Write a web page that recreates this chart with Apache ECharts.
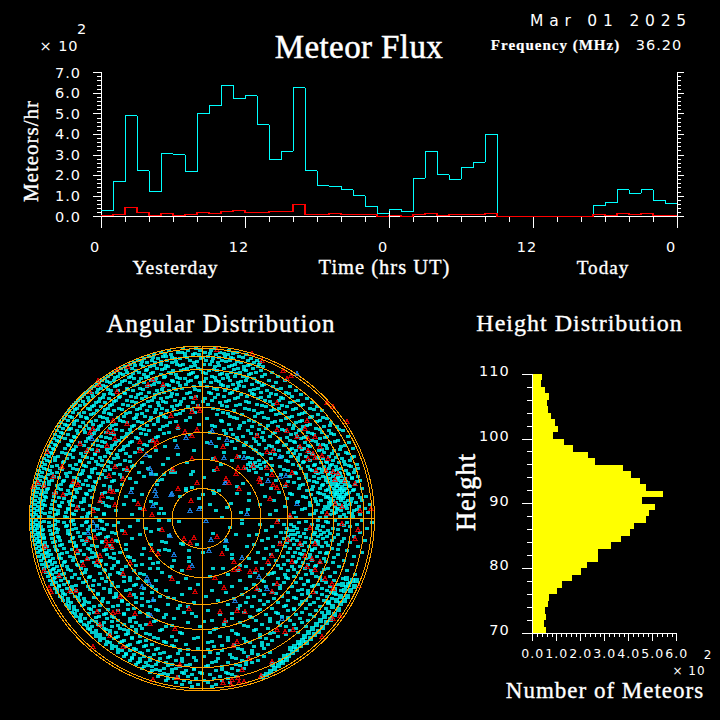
<!DOCTYPE html>
<html><head><meta charset="utf-8">
<style>
html,body{margin:0;padding:0;background:#000}
#c{width:720px;height:720px}
svg path,svg line,svg rect{shape-rendering:crispEdges}
svg text[style*="Serif"]{letter-spacing:1px}
svg text[style*="33px"]{letter-spacing:.4px}
svg text[style*="DejaVu Sans"]{letter-spacing:1px}
svg text[style*="15.5px"]{letter-spacing:5.8px}
</style>
<script src="https://cdn.jsdelivr.net/npm/echarts@6/dist/echarts.min.js"></script>
</head><body><div id="c"></div>
<script>
const fluxTotal=[.28,1.7,4.9,2.23,1.2,3.06,3,2.18,5,5.38,6.37,5.73,5.88,4.47,2.77,3.16,6.27,2.23,1.5,1.46,1.31,1.02,.49,.15,.34,.24,1.85,3.16,2.04,1.8,2.38,2.63,3.99,0,0,0,0,0,0,0,0,.53,.68,1.31,1.12,1.31,.78,.63];
const fluxRed=[.05,.1,.44,.19,.05,.15,.05,.1,.19,.15,.24,.29,.19,.19,.24,.24,.58,.1,.1,.15,.1,.1,.1,0,.05,0,.1,.15,.05,.1,.1,.1,.15,0,0,0,0,0,0,0,0,.1,.05,.15,.1,.15,.05,.05];
const timeTicks=['0','12','0','12','0'];
const dayMark=[[24,0],[24,.25]];
const heightBins=[70,71,72,73,74,75,76,77,78,79,80,81,82,83,84,85,86,87,88,89,90,91,92,93,94,95,96,97,98,99,100,101,102,103,104,105,106,107,108,109];
const heightCounts=[.56,.47,.56,.51,.63,.67,1.01,1.22,1.64,2.01,2.26,2.72,2.72,3.26,3.68,4.06,4.22,4.72,4.85,5.1,4.56,5.43,4.72,4.47,4.1,3.76,2.6,2.31,1.68,1.31,.85,1.06,.93,.76,.64,.6,.68,.51,.35,.39];
const ringRadii=[30,59,86,111,132,149,162,170,172.5];
// angular distribution: each row is [dy, dx, dx, ...] estimated from the disc
const cyanRows=[
[-170,-19,-6,13],
[-168,-33,-14,-2,9,27],
[-166,-41,-24,-20,3,18,35],
[-164,-48,-31,-9,-3,14,26,44],
[-162,-53,-39,-36,-17,6,23,37],
[-160,-58,-44,-27,-22,-1,11,31,49],
[-158,-64,-50,-35,-12,4,20,28,46,55],
[-156,-68,-55,-47,-30,-8,16,39,52,58],
[-154,-72,-61,-41,-25,-19,2,8,33,48,57],
[-152,-77,-59,-52,-34,-11,13,27,42,56,61],
[-150,-81,-70,-45,-37,-15,-4,22,36,51],
[-148,-85,-66,-56,-29,-21,7,15,44,59],
[-146,-88,-75,-63,-49,-33,-9,1,29,38,54,70],
[-144,-91,-79,-58,-41,-26,-13,18,25,47,63],
[-142,-94,-84,-71,-54,-37,-5,10,33,41,60,76],
[-140,-97,-68,-61,-46,-22,-17,4,21,52],
[-138,-100,-88,-77,-51,-30,-11,14,28,44,67,83],
[-136,-103,-92,-72,-58,-43,-24,-2,9,36,57,74],
[-134,-105,-82,-65,-48,-35,-16,19,31,50,62],
[-132,-108,-96,-87,-55,-39,-8,5,26,42,71,88],
[-130,-111,-101,-75,-62,-28,-20,12,35,56,79],
[-128,-113,-91,-84,-69,-45,-33,-3,23,48,65,94],
[-126,-116,-105,-78,-53,-38,-12,7,30,59,84],
[-124,-118,-98,-89,-64,-47,-25,16,39,52,74,99],
[-122,-120,-109,-82,-71,-56,-31,-6,22,45,67,90],
[-120,-122,-102,-93,-60,-41,-18,3,33,56,81,105],
[-118,-124,-113,-86,-75,-50,-27,10,27,63,77,96],
[-116,-126,-106,-97,-66,-44,-36,-9,18,47,88,110],
[-114,-128,-117,-90,-79,-58,-22,6,38,55,71,101],
[-112,-130,-110,-101,-69,-52,-30,-14,25,64,85,115],
[-110,-125,-114,-94,-83,-62,-40,11,43,77,94,108],
[-108,-133,-105,-88,-55,-35,-19,32,52,69,120],
[-106,-129,-118,-98,-72,-47,-7,21,60,83,103],
[-104,-136,-111,-91,-65,-26,15,40,74,97,116],
[-102,-132,-121,-102,-78,-57,-38,28,53,90,110],
[-100,-138,-115,-95,-68,-44,5,35,66,84,125],
[-98,-134,-125,-106,-82,-52,-16,19,47,79,100,118],
[-96,-141,-119,-99,-75,-60,-32,42,70,94,129],
[-94,-137,-128,-109,-86,-48,-3,27,58,87,108],
[-92,-143,-122,-103,-70,-39,13,50,76,101,122,135],
[-90,-139,-131,-113,-92,-62,-24,37,64,91,114],
[-88,-145,-125,-107,-80,-53,22,46,83,97,127,141],
[-86,-141,-117,-96,-71,-33,8,61,73,106,120],
[-84,-147,-134,-110,-88,-56,-12,31,55,89,112,132],
[-82,-143,-128,-101,-76,-44,41,68,95,104,125,146],
[-80,-148,-137,-114,-92,-64,17,52,78,99,118],
[-78,-145,-131,-105,-83,-50,-27,36,62,88,110,136],
[-76,-151,-122,-97,-72,5,44,75,93,103,128,147],
[-74,-147,-134,-109,-87,-58,25,57,84,116,121],
[-72,-153,-126,-100,-78,-37,14,49,70,97,108,139],
[-70,-149,-137,-113,-91,-63,33,64,90,102,125,151],
[-68,-155,-129,-104,-82,-46,-8,54,77,94,117,132],
[-66,-151,-140,-116,-94,-67,22,42,86,107,122,144],
[-64,-156,-132,-107,-85,-24,60,73,98,111,136],
[-62,-153,-144,-119,-97,-72,-52,37,80,89,104,127,152],
[-60,-158,-135,-110,-88,-34,11,50,69,115,121,140],
[-58,-155,-147,-122,-100,-77,30,57,84,96,108,131,148],
[-56,-160,-139,-113,-91,-60,-15,48,53,62,101,119,125,137],
[-54,-157,-126,-104,-82,-39,19,46,51,58,91,113,130,143,155],
[-52,-161,-150,-116,-94,-70,49,55,64,78,106,122,134,149],
[-50,-158,-142,-129,-107,-54,44,52,59,99,117,127,139,156],
[-48,-163,-152,-119,-97,-75,-30,47,70,86,110,124,132,144],
[-46,-160,-145,-132,-110,-63,54,93,114,120,129,137,152],
[-44,-164,-154,-122,-100,-82,65,79,104,126,134,147],
[-42,-161,-148,-135,-113,-58,88,112,121,131,139,156],
[-40,-165,-156,-125,-103,-72,59,97,117,128,135,143,150],
[-38,-162,-150,-138,-116,-88,74,107,124,133,137,141,158],
[-36,-166,-158,-128,-106,-66,92,115,126,134,139,146],
[-34,-163,-153,-141,-119,-80,60,101,121,130,136,143,153],
[-32,-167,-159,-131,-109,-92,83,111,128,135,140,148],
[-30,-164,-154,-144,-122,-70,69,97,118,132,138,144,160],
[-28,-168,-160,-134,-112,-85,105,124,133,137,142,151],
[-26,-165,-156,-146,-125,-97,77,116,129,135,140,147],
[-24,-169,-161,-136,-115,-60,90,109,122,134,138,144,156],
[-22,-166,-157,-148,-128,-76,63,101,126,132,137,142,164],
[-20,-170,-162,-138,-118,-90,85,113,128,136,141,150],
[-18,-167,-158,-149,-130,-68,72,119,131,139,146,160],
[-16,-170,-163,-140,-121,-99,95,108,127,134,143,154],
[-14,-167,-159,-150,-132,-78,58,116,130,137,148,168],
[-12,-171,-164,-142,-124,-93,83,123,133,141,157],
[-10,-168,-160,-151,-134,-108,-62,103,126,136,145,163],
[-8,-171,-165,-144,-126,-86,74,114,130,139,152],
[-6,-168,-161,-152,-136,-112,92,120,134,147,166],
[-4,-171,-166,-146,-128,-98,-70,68,108,128,142,158],
[-2,-169,-162,-153,-137,-115,88,124,138,151],
[2,-171,-166,-147,-129,-102,-64,76,116,133,160],
[4,-169,-162,-153,-138,-116,-84,97,126,145,170],
[6,-171,-166,-147,-128,-95,58,82,89,110,137,155],
[8,-169,-161,-153,-136,-112,-72,70,92,121,148],
[10,-170,-165,-146,-126,-100,-56,85,95,115,131,165],
[12,-167,-160,-152,-134,-108,-80,64,87,91,118,126,144],
[14,-170,-164,-145,-124,-90,79,84,96,113,122,158],
[16,-166,-159,-151,-132,-104,-62,55,89,93,112,119,136],
[18,-169,-163,-144,-122,-94,74,86,98,116,125,152],
[20,-165,-158,-150,-130,-110,-70,66,82,91,109,121,142],
[22,-168,-162,-142,-120,-86,60,88,95,114,130,163],
[24,-164,-157,-149,-128,-100,78,85,103,110,124,148],
[26,-167,-160,-140,-118,-76,52,92,99,116,137],
[28,-163,-155,-147,-126,-105,71,83,107,120,156],
[30,-166,-158,-138,-114,-90,-58,64,88,96,113,130],
[32,-162,-153,-145,-122,-98,75,102,110,145],
[34,-164,-156,-135,-110,-82,56,86,93,118,125,160],
[36,-160,-151,-143,-118,-95,-60,69,100,108,136],
[38,-163,-154,-132,-106,-74,81,91,115,152],
[40,-158,-149,-141,-114,-88,-52,62,97,104,122],
[42,-161,-152,-129,-101,-68,74,86,110,142],
[44,-156,-147,-138,-108,-84,-44,54,93,101,118,131],
[46,-160,-150,-125,-96,-60,67,82,106,150],
[48,-154,-145,-135,-103,-76,-30,44,90,98,113,137],
[50,-158,-148,-121,-90,-52,60,79,103,126],
[52,-152,-143,-131,-97,-68,-20,36,86,109,145],
[54,-156,-146,-117,-84,-40,53,72,96,120,133],
[56,-150,-140,-127,-92,-58,26,66,83,104,153],
[58,-154,-143,-112,-78,-32,8,48,92,114,128],
[60,-148,-137,-123,-100,-64,-16,76,86,99,141],
[62,-152,-141,-108,-72,-46,38,60,106,120,132],
[64,-146,-134,-119,-90,-24,18,82,94,124,148],
[66,-150,-138,-103,-66,-4,52,72,102,116,136],
[68,-143,-130,-114,-84,-50,30,64,90,110,128,144],
[70,-147,-135,-98,-58,-12,44,78,120,133],
[72,-140,-126,-109,-76,-36,10,58,96,106,125,139],
[74,-145,-131,-92,-50,24,70,86,114,129],
[76,-137,-122,-104,-68,-20,40,62,100,120,134],
[78,-142,-127,-86,-42,4,52,80,108,125],
[80,-134,-118,-99,-60,-28,32,72,94,116,130],
[82,-139,-123,-80,-48,16,58,86,104,122],
[84,-131,-113,-94,-66,-8,44,76,112,126],
[86,-136,-118,-74,-34,26,62,98,108],
[88,-128,-108,-89,-52,-14,50,82,118],
[90,-133,-113,-68,-24,36,70,92,104,124],
[92,-125,-103,-84,-44,6,56,86,114],
[94,-130,-108,-62,-18,42,74,100,120],
[96,-121,-98,-78,-36,18,64,94,108],
[98,-126,-103,-90,-54,-6,48,80,112],
[100,-117,-95,-72,-28,30,68,98],
[102,-122,-110,-84,-46,10,54,88,106],
[104,-113,-98,-66,-14,38,76,100],
[106,-118,-104,-78,-56,22,60,92],
[108,-110,-90,-70,-36,-2,46,84,104],
[110,-114,-98,-82,-60,14,66,94],
[112,-106,-92,-74,-42,30,52,88],
[114,-110,-86,-66,-22,8,72,96],
[116,-102,-94,-76,-52,36,58,84],
[118,-106,-84,-62,-30,18,76],
[120,-98,-88,-70,-44,-8,42,64],
[122,-102,-78,-56,-26,26,70],
[124,-92,-82,-64,-36,6,48,60],
[126,-96,-72,-50,-16,32,66],
[128,-86,-76,-58,-28,12,52],
[130,-90,-68,-44,-4,36,62],
[132,-80,-72,-54,-22,20,50],
[134,-84,-62,-38,8,42,68],
[136,-76,-68,-48,-14,28,56],
[138,-78,-58,-32,2,46,62],
[140,-70,-62,-42,-20,16,34],
[142,-72,-52,-26,-6,40,56],
[144,-64,-56,-36,10,26,50],
[146,-66,-46,-30,-12,34,44],
[148,-58,-50,-22,4,20],
[150,-60,-38,-26,-8,30,42],
[152,-50,-42,-16,14,36],
[154,-52,-30,-20,-2,24],
[156,-42,-34,-10,8,30],
[158,-44,-24,-14,18,34],
[160,-34,-28,-6,12,26],
[162,-36,-18,2,20],
[164,-26,-12,6,28],
[166,-20,-4,14],
[168,-10,10]];
// second pass over the crowded part of the disc
const cyanRowsDense=[
[-165,-37,-17,-7,8,22,31],
[-161,-49,-30,-15,1,17,29,41],
[-157,-60,-41,-26,-5,10,24,35],
[-153,-67,-48,-36,-22,-7,17,30,46],
[-149,-76,-55,-40,-18,-1,12,32,42],
[-145,-82,-69,-51,-31,-11,4,20,34,49],
[-141,-87,-73,-56,-38,-25,-6,13,26,45],
[-137,-95,-80,-63,-47,-29,-14,2,17,39,55],
[-133,-99,-85,-68,-52,-33,-22,-1,21,37,60],
[-129,-104,-94,-74,-59,-40,-26,-7,15,33,52,75],
[-125,-110,-92,-77,-61,-43,-30,-15,9,28,50,69,87],
[-121,-114,-99,-83,-66,-48,-35,-11,13,36,59,79],
[-117,-119,-103,-88,-70,-54,-39,-21,1,24,44,68,92],
[-113,-122,-108,-92,-74,-60,-43,-25,-4,20,34,60,80,99],
[-109,-127,-112,-97,-80,-65,-46,-28,-10,16,47,72,91,112],
[-105,-123,-108,-93,-76,-60,-41,-22,26,56,78,100],
[-101,-130,-116,-99,-84,-66,-51,-36,-12,32,62,87,108,121],
[-97,-128,-111,-94,-79,-64,-44,-26,20,52,73,98,115],
[-93,-135,-116,-101,-90,-68,-55,-35,10,38,66,92,105,128],
[-89,-133,-118,-104,-86,-72,-58,-42,29,57,80,99,118,137],
[-85,-139,-124,-108,-91,-75,-61,-38,24,49,71,94,110,129],
[-81,-141,-127,-112,-96,-80,-66,-46,35,60,85,102,123],
[-77,-143,-130,-116,-100,-86,-70,-52,30,54,76,92,114,133],
[-73,-146,-133,-118,-104,-90,-74,-55,42,67,82,106,124,143],
[-69,-148,-128,-110,-95,-79,-60,52,72,88,100,120,138],
[-65,-150,-136,-121,-107,-91,-76,57,68,92,110,130,146],
[-61,-147,-129,-115,-102,-84,46,78,96,116,134,150],
[-57,-152,-138,-122,-106,-94,-72,64,86,102,124,142],
[-53,-145,-132,-118,-100,-86,-68,70,97,112,128,147],
[-49,-155,-140,-125,-110,-92,-78,82,108,120,135,153],
[-45,-150,-136,-120,-104,-88,94,116,128,138,146],
[-41,-157,-143,-128,-112,-96,-80,104,124,136,150],
[-37,-153,-139,-123,-107,-90,86,112,130,144,155],
[-33,-158,-145,-130,-114,-98,98,120,134,147],
[-29,-155,-141,-126,-108,-92,110,126,140,152],
[-25,-160,-148,-132,-116,-100,88,118,133,145],
[-21,-156,-143,-127,-110,-94,104,124,139,158],
[-17,-161,-147,-133,-118,-102,96,114,129,149],
[-13,-157,-143,-129,-112,-96,108,127,144],
[-9,-162,-148,-134,-119,-104,100,122,135,155],
[-5,-157,-144,-130,-114,-98,112,132,150],
[-1,-163,-149,-135,-120,-106,94,118,144],
[3,-158,-144,-131,-115,-100,104,124],
[7,-164,-149,-135,-120,-105,-88,116,142],
[11,-159,-144,-130,-114,-98,104,136],
[15,-162,-149,-134,-118,-102,-86,102,128],
[19,-158,-143,-129,-113,-96,104,132],
[23,-163,-147,-132,-116,-100,-84,116,140],
[27,-157,-142,-126,-110,-92,100,126],
[31,-160,-146,-130,-112,-96,-76,110,136],
[35,-155,-140,-124,-106,-88,98,124],
[39,-158,-143,-128,-110,-92,-72,108,132],
[43,-152,-137,-120,-102,-84,94,124],
[47,-156,-140,-124,-106,-88,-66,76,114],
[51,-149,-134,-116,-98,-80,92,122],
[55,-152,-138,-120,-102,-82,-62,70,110],
[59,-147,-130,-113,-94,-72,84,118],
[63,-149,-134,-116,-96,-78,-56,62,106],
[67,-143,-126,-109,-90,-68,78,112],
[71,-145,-130,-112,-92,-72,-46,56,100],
[75,-139,-122,-104,-86,-60,74,106],
[79,-140,-124,-108,-88,-66,-34,46,92],
[83,-134,-117,-100,-80,-54,66,100],
[87,-133,-120,-102,-84,-60,-22,38,84],
[91,-128,-111,-94,-74,-46,58,92],
[95,-127,-113,-96,-78,-54,-10,30,76],
[99,-122,-106,-88,-68,-38,50,86],
[103,-121,-106,-90,-72,-48,2,24,68],
[107,-115,-100,-84,-62,-30,42,78],
[111,-112,-96,-78,-66,-40,12,54],
[115,-106,-92,-74,-56,-20,34,68],
[119,-102,-86,-70,-48,-4,26,58],
[123,-95,-80,-62,-38,10,44],
[127,-90,-74,-56,-30,20,60],
[131,-84,-66,-46,-14,6,40],
[135,-76,-60,-42,-24,16,50],
[139,-70,-52,-34,-8,30],
[143,-62,-44,-20,14,44],
[147,-54,-34,-16,6,38],
[151,-46,-30,-8,20],
[155,-38,-18,0,26]];
const cyanCenterPairs=[-46,-44,-38,-44,-31,-46,-27,-46,-11,-44,-9,-47,12,-48,2,-41,-51,-45,-44,-38,-40,-39,-45,-34,-16,-30,-16,-28,-10,-31,17,-28,12,-25,11,-28,35,-32,35,-25,47,-25,47,-18,41,-35,-22,-22,-3,-20,-2,-11,8,-14,29,-15,25,-11,14,-8,1,-24,-41,-10,-38,-5,-46,-15,-51,-17,-43,-5,20,-1,39,-6,46,-9,40,1,40,5,28,9,-23,3,-43,2,-33,2,-51,13,-43,11,-33,17,11,15,34,16,24,22,23,28,25,31,47,17,-40,23,-36,24,-37,31,-33,32,-43,32,-19,26,-21,25,-5,26,-13,32,-13,39,-13,43,1,34,-51,26,-28,42,-49,45,-44,50,11,50,21,50,30,36,30,40,45,28,47,40,38,47];
const streakPairs=[60,158,64,156,68,153,72,150,70,146,76,147,80,144,84,141,78,142,86,137,90,134,82,138,94,131,88,130,98,127,92,128,100,122,104,124,96,124,108,120,102,118,112,116,106,114,116,113,110,110,120,109,114,106,124,104,118,102,128,101,122,98,132,96,126,94,136,91,130,88,138,85,134,82,142,82,138,78,145,78,148,72,142,72,152,68,146,66,150,62,144,60,154,62,140,66,132,74,126,84];
const redPairs=[15,-50,36,-51,42,-51,35,-62,13,-60,21,-72,24,-40,27,-36,37,-30,34,-45,58,-37,57,-40,71,-34,75,-31,84,-34,90,-46,70,-44,65,-51,51,-53,71,-68,65,-67,55,-83,75,-89,85,-88,95,-82,103,-90,106,-80,113,-82,98,-72,106,-68,111,-65,106,-60,118,-72,120,-63,113,-61,126,-60,114,-48,124,-48,131,-47,136,-45,133,-39,143,-38,153,-35,140,-12,133,-15,125,-5,158,-8,169,-10,145,-97,125,-116,131,-112,105,-98,75,-116,81,-148,85,-140,89,-143,60,-158,50,-165,15,-169,88,-3,68,-20,-2,-108,75,3,108,9,156,11,153,20,15,18,20,35,32,43,37,50,32,51,13,59,48,53,54,51,66,43,70,37,78,25,86,21,98,25,90,43,113,25,103,37,110,40,105,48,118,43,113,51,123,60,130,65,131,70,111,73,75,65,70,73,55,70,22,69,35,92,43,93,18,93,23,102,75,111,83,113,91,111,35,123,31,127,131,100,138,97,120,118,140,5,47,140,70,143,59,157,40,151,30,161,36,159,29,166,37,164,42,163,21,164,157,67,-115,21,-107,19,-96,22,-90,22,-95,27,-90,28,-77,14,-40,11,-18,20,-8,19,-12,24,-50,31,-44,35,-72,44,-79,55,-102,37,-105,43,-115,40,-119,46,-125,32,-157,28,-158,52,-143,57,-126,72,-132,72,-153,69,-151,73,-13,49,-30,60,-7,73,-82,78,-72,76,-105,93,-89,94,-84,93,-67,95,-13,90,-102,106,-52,105,-27,110,-92,117,-79,128,-109,128,-22,146,-49,161,-25,159,-164,-36,-169,-32,-149,-42,-158,-33,-147,-26,-139,-24,-129,-37,-124,-34,-140,-52,-155,-67,-122,-75,-115,-68,-105,-68,-95,-73,-87,-80,-89,-87,-112,-86,-109,-90,-94,-87,-75,-95,-89,-98,-62,-77,-62,-68,-49,-78,-45,-77,-47,-72,-5,-89,-17,-87,-10,-83,-24,-92,-31,-103,-10,-107,-4,-112,-7,-121,-54,-134,-49,-139,-39,-134,-85,-127,-104,-138,-103,-134,-112,-127,-85,-149,-74,-152,-75,-50,-87,-52,-93,-43,-79,-40,-89,-27,-92,-28,-100,-23,-102,-18,-87,-14,-64,-15,-58,-10,-50,-4,-125,-11,-109,-8,-29,-49,-10,-60,-24,-30,-5,-36,-11,-18];
const bluePairs=[-31,-24,-12,-8,-3,-10,4,2,23,-36,45,-5,-49,-13,-46,-23,-47,-28,9,21,7,32,24,22,-28,36,40,39,10,-88,9,-76,25,-79,22,-61,42,-61,78,-42,84,-43,66,-38,24,-36,78,-62,95,-15,95,-145,-50,-45,-30,-25,-25,-72,-16,-81,-52,-50,-56,-64,-71,-27,-110,-80,-109,4,-105,9,-114,14,-53,64,-49,81,-51,97,-60,68,-10,47,-32,17,-55,59,57,58,80,100,65,70,33,82];

const dark='#000',white='#fff';
const disc=[];cyanRows.concat(cyanRowsDense).forEach(r=>{for(let i=1;i<r.length;i++)disc.push([r[i],r[0]])});
const pairs=a=>{const o=[];for(let i=0;i<a.length;i+=2)o.push([a[i],a[i+1]]);return o};
const hist=a=>a.map((v,i)=>[i,v]).concat([[a.length,a[a.length-1]]]);
const circle=r=>{const o=[];for(let d=0;d<=360;d+=2){const t=d*Math.PI/180;o.push([r*Math.cos(t),r*Math.sin(t)])}return o};
const serif='"Liberation Serif"',sans='"DejaVu Sans"';
function lab(text,x,y,font,o){o=o||{};return {type:'text',x:x,y:y,rotation:o.rot||0,z:50,silent:true,style:{text:text,font:font,fill:white,stroke:o.thin?null:white,lineWidth:o.thin?0:(o.lw||.35),textAlign:o.align||'center',textVerticalAlign:'middle'}}}
const tick=(m,n)=>({axisTick:{show:true,length:m,lineStyle:{color:white,width:1}},minorTick:{show:true,splitNumber:n,length:m/2,lineStyle:{color:white,width:1}},axisLine:{show:true,onZero:false,lineStyle:{color:white,width:1}},splitLine:{show:false},minorSplitLine:{show:false}});
const lbl=(size,margin,f,extra)=>Object.assign({show:true,color:white,fontFamily:'DejaVu Sans',fontWeight:400,fontSize:size,margin:margin,formatter:f,showMinLabel:true,showMaxLabel:true,hideOverlap:false},extra||{});
const plain={silent:true,animation:false,symbol:'none',showSymbol:false};
const D=172.9;
const series=[
 Object.assign({type:'line',name:'all',xAxisIndex:0,yAxisIndex:0,step:'end',data:hist(fluxTotal),lineStyle:{color:'#00ffff',width:1},z:3},plain),
 Object.assign({type:'line',name:'high',xAxisIndex:0,yAxisIndex:0,step:'end',data:hist(fluxRed),lineStyle:{color:'#ff0000',width:1.4},z:4},plain),
 Object.assign({type:'line',name:'day',xAxisIndex:0,yAxisIndex:0,data:dayMark,lineStyle:{color:white,width:1},z:5},plain),
 {type:'scatter',xAxisIndex:1,yAxisIndex:2,data:disc.concat(pairs(cyanCenterPairs)),symbol:'rect',symbolSize:3.6,itemStyle:{color:'#00ffff'},silent:true,animation:false,z:2},
 {type:'scatter',xAxisIndex:1,yAxisIndex:2,data:pairs(streakPairs),symbol:'rect',symbolSize:5,itemStyle:{color:'#00ffff'},silent:true,animation:false,z:2},
 {type:'scatter',xAxisIndex:1,yAxisIndex:2,data:pairs(bluePairs),symbol:'triangle',symbolSize:4,itemStyle:{color:'rgba(0,0,0,0)',borderColor:'#1e90ff',borderWidth:1},silent:true,animation:false,z:3},
 {type:'scatter',xAxisIndex:1,yAxisIndex:2,data:pairs(redPairs),symbol:'triangle',symbolSize:4,itemStyle:{color:'rgba(0,0,0,0)',borderColor:'#ff0000',borderWidth:1},silent:true,animation:false,z:3},
 Object.assign({type:'line',xAxisIndex:1,yAxisIndex:2,data:[[-D,0],[D,0]],lineStyle:{color:'#ffa500',width:1},z:6},plain),
 Object.assign({type:'line',xAxisIndex:1,yAxisIndex:2,data:[[0,-D],[0,D]],lineStyle:{color:'#ffa500',width:1},z:6},plain),
 {type:'bar',xAxisIndex:2,yAxisIndex:4,data:heightCounts,barWidth:'100%',barGap:0,itemStyle:{color:'#ffff00',borderColor:'#ffff00',borderWidth:1},silent:true,animation:false,z:2}
];
ringRadii.forEach(r=>series.push(Object.assign({type:'line',xAxisIndex:1,yAxisIndex:2,data:circle(r),lineStyle:{color:'#ffa500',width:1},z:6},plain)));
const option={
 backgroundColor:dark,animation:false,
 grid:[{left:101,top:72.5,width:576,height:144},{left:202-D,top:518.5-D,width:2*D,height:2*D},{left:532.7,top:374,width:144,height:259}],
 xAxis:[
  Object.assign({type:'value',gridIndex:0,min:0,max:48,interval:12,position:'bottom',axisLabel:lbl(14.5,23,v=>timeTicks[v/12],{padding:[0,12,0,0]})},tick(11,6)),
  {type:'value',gridIndex:1,min:-D,max:D,show:false},
  Object.assign({type:'value',gridIndex:2,min:0,max:6,interval:1,position:'bottom',axisLabel:lbl(12.5,14,v=>v.toFixed(1))},tick(8,5))
 ],
 yAxis:[
  Object.assign({type:'value',gridIndex:0,min:0,max:7,interval:1,position:'left',axisLabel:lbl(14.5,20,v=>v.toFixed(1))},tick(8,5)),
  Object.assign({type:'value',gridIndex:0,min:0,max:7,interval:1,position:'right',axisLabel:{show:false}},tick(7,5)),
  {type:'value',gridIndex:1,min:-D,max:D,inverse:true,show:false},
  Object.assign({type:'value',gridIndex:2,min:70,max:110,interval:10,position:'left',axisLabel:lbl(14.5,23,v=>String(v),{verticalAlign:'bottom',lineHeight:6})},tick(10.5,5)),
  {type:'category',gridIndex:2,data:heightBins,show:false,boundaryGap:true}
 ],
 series:series,
 graphic:{elements:[
  lab('Meteor Flux',359,47,'33px '+serif,{lw:.5}),
  lab('Mar 01 2025',611,21,'15.5px '+sans,{thin:true}),
  lab('Frequency (MHz)',555.5,45,'bold 15px '+serif,{lw:.2}),
  lab('36.20',659,45,'14.5px '+sans,{thin:true}),
  lab('× 10',59,46,'14.5px '+sans,{thin:true}),
  lab('2',82,29,'14.5px '+sans,{thin:true}),
  lab('Meteors/hr',31,151,'21px '+serif,{rot:Math.PI/2}),
  lab('Yesterday',175.5,267,'19.5px '+serif),
  lab('Time (hrs UT)',384.5,267,'20.5px '+serif),
  lab('Today',603,267,'19.2px '+serif),
  lab('Angular Distribution',221,323,'25px '+serif),
  lab('Height Distribution',579.5,323,'24px '+serif),
  lab('Height',466,492,'26.5px '+serif,{rot:Math.PI/2,lw:.5}),
  lab('Number of Meteors',605,690,'23px '+serif),
  lab('× 10',689,671,'12px '+sans,{thin:true}),
  lab('2',708,655,'12px '+sans,{thin:true})
 ]}
};
const chart=echarts.init(document.getElementById('c'),null,{renderer:'svg',width:720,height:720});
chart.setOption(option);
</script></body></html>
